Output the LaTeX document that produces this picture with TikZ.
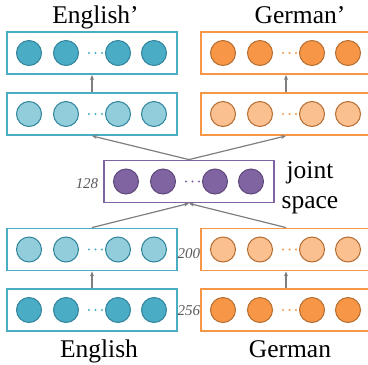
\documentclass[tikz,border=0pt]{standalone}
\usepackage{fontspec}
\setmainfont{Liberation Serif}
\usetikzlibrary{arrows.meta,calc}

\definecolor{tealdark}{HTML}{4BACC6}
\definecolor{teallight}{HTML}{92CDDC}
\definecolor{tealline}{HTML}{31849B}
\definecolor{orgdark}{HTML}{F79646}
\definecolor{orglight}{HTML}{FAC090}
\definecolor{orgline}{HTML}{B66D31}
\definecolor{purp}{HTML}{8064A2}
\definecolor{purpline}{HTML}{5F497A}
\definecolor{arrgray}{HTML}{7F7F7F}
\definecolor{lblgray}{HTML}{595959}

\tikzset{
  layerbox/.style={draw=#1, line width=1.8pt, minimum width=170pt, minimum height=42pt, inner sep=0pt},
  unit/.style 2 args={circle, fill=#1, draw=#2, line width=1pt, minimum size=25pt, inner sep=0pt},
  dotmark/.style={circle, fill=#1, inner sep=0pt, minimum size=2.4pt},
  arr/.style={draw=arrgray, line width=1.2pt, -{Stealth[length=5pt,width=4pt]}},
  title/.style={font=\fontsize{25.5}{30}\selectfont, anchor=base},
  dimlbl/.style={font=\fontsize{15}{17}\selectfont\itshape, text=lblgray},
}

% one layer: name, centre x, centre y, box colour, unit fill, unit outline
\newcommand\neuronrow[6]{%
  \node[layerbox=#4] (#1) at (#2,#3) {};
  \node[unit={#5}{#6}] (#1-a) at ($(#1.center)+(-63,0)$) {};
  \node[unit={#5}{#6}] (#1-b) at ($(#1.center)+(-26,0)$) {};
  \node[unit={#5}{#6}] (#1-c) at ($(#1.center)+(26,0)$) {};
  \node[unit={#5}{#6}] (#1-d) at ($(#1.center)+(62,0)$) {};
  \node[dotmark=#4] (#1-d1) at ($(#1.center)+(-3,0)$) {};
  \node[dotmark=#4] (#1-d2) at ($(#1.center)+(3.5,0)$) {};
  \node[dotmark=#4] (#1-d3) at ($(#1.center)+(10,0)$) {};
}

\begin{document}
\begin{tikzpicture}[x=1pt,y=-1pt]
  \clip (0,0) rectangle (368,365);

  % English column
  \neuronrow{eOut}{92}{53}{tealdark}{tealdark}{tealline}
  \neuronrow{eDec}{92}{114}{tealdark}{teallight}{tealline}
  \neuronrow{eEnc}{92}{249.5}{tealdark}{teallight}{tealline}
  \neuronrow{eIn}{92}{310}{tealdark}{tealdark}{tealline}

  % German column
  \neuronrow{gOut}{286}{53}{orgdark}{orgdark}{orgline}
  \neuronrow{gDec}{286}{114}{orgdark}{orglight}{orgline}
  \neuronrow{gEnc}{286}{249.5}{orgdark}{orglight}{orgline}
  \neuronrow{gIn}{286}{310}{orgdark}{orgdark}{orgline}

  % shared layer
  \neuronrow{joint}{189}{181.5}{purp}{purp}{purpline}

  % connections
  \draw[arr] (eIn.north) -- (eEnc.south);
  \draw[arr] (gIn.north) -- (gEnc.south);
  \draw[arr] (eEnc.north) -- (joint.south);
  \draw[arr] (gEnc.north) -- (joint.south);
  \draw[arr] (joint.north) -- (eDec.south);
  \draw[arr] (joint.north) -- (gDec.south);
  \draw[arr] (eDec.north) -- (eOut.south);
  \draw[arr] (gDec.north) -- (gOut.south);

  % captions
  \node[title] (tEnOut) at (95.5,23) {English’};
  \node[title] (tDeOut) at (300,23) {German’};
  \node[title] (tEnIn) at (99,357) {English};
  \node[title] (tDeIn) at (290,357) {German};
  \node[title] (tJoint) at (310,178) {joint};
  \node[title] (tSpace) at (310,208) {space};

  % layer sizes
  \node[dimlbl] (s128) at (87,184) {128};
  \node[dimlbl] (s200) at (189,254) {200};
  \node[dimlbl] (s256) at (189,311) {256};
\end{tikzpicture}
\end{document}
